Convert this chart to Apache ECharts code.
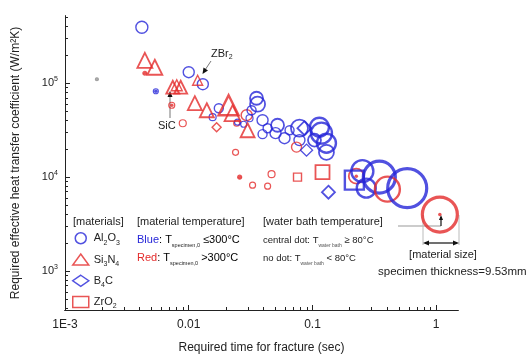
<!DOCTYPE html>
<html>
<head>
<meta charset="utf-8">
<script src="https://cdn.jsdelivr.net/npm/echarts@6/dist/echarts.min.js"></script>
<style>
  html, body { margin: 0; padding: 0; background: #fff; }
  #chart { width: 531px; height: 361px; }
</style>
</head>
<body>
<div id="chart"></div>
<script>
// each point: [time (s), h (W/m2K), marker size, temp (0 blue, 1 red, 2 grey), central dot]
var alumina = [
  [0.00418, 394000, 12, 0, 0], [0.00181, 110300, 3, 2, 1], [0.00442, 127700, 4, 1, 1],
  [0.00542, 82200, 5, 0, 1], [0.00729, 58300, 6, 1, 1], [0.00895, 37500, 7, 1, 0],
  [0.0100, 131000, 11, 0, 0], [0.0130, 97600, 11, 0, 0], [0.0175, 54200, 9, 0, 0],
  [0.0156, 43500, 7, 0, 0], [0.0294, 45700, 11, 1, 0], [0.0244, 37500, 6, 1, 0],
  [0.0353, 69200, 13, 0, 0], [0.0360, 59800, 15, 0, 0], [0.0322, 51600, 9, 0, 0],
  [0.0248, 38500, 6, 0, 0], [0.0278, 36600, 6, 0, 0], [0.0310, 42400, 7, 0, 0],
  [0.0395, 40400, 11, 0, 0], [0.0395, 28700, 9, 0, 0], [0.0434, 33200, 9, 0, 0],
  [0.0239, 18400, 6, 1, 0], [0.0522, 35700, 13, 0, 0], [0.0503, 29400, 11, 0, 0],
  [0.0594, 26000, 11, 0, 0], [0.0653, 31600, 9, 0, 0], [0.0785, 33200, 17, 0, 0],
  [0.0785, 24800, 11, 0, 0], [0.0743, 20900, 10, 1, 0], [0.1138, 34000, 19, 0, 0],
  [0.1182, 29400, 21, 0, 0], [0.1297, 23000, 19, 0, 0], [0.1297, 18400, 15, 0, 0],
  [0.1038, 24800, 13, 0, 0], [0.0258, 10000, 4, 1, 1], [0.0328, 8220, 6, 1, 0],
  [0.0434, 8020, 6, 1, 0], [0.0467, 10760, 7, 1, 0], [0.226, 10250, 15, 1, 1],
  [0.253, 11590, 22, 0, 0], [0.347, 10000, 32, 0, 0], [0.272, 7640, 19, 0, 0],
  [0.403, 7450, 25, 1, 0], [0.583, 7640, 39, 0, 0], [1.07, 4000, 35, 1, 1]
];
var siliconNitride = [
  [0.00442, 175600, 15, 1, 0], [0.00532, 148000, 15, 1, 0], [0.00743, 90700, 13, 1, 0],
  [0.00861, 90700, 13, 1, 0], [0.0080, 95200, 11, 1, 0], [0.0118, 107600, 10, 1, 0],
  [0.0112, 61300, 14, 1, 0], [0.0140, 51600, 14, 1, 0], [0.0210, 58300, 20, 1, 0],
  [0.0226, 48000, 16, 1, 0], [0.0299, 31600, 14, 1, 0]
];
var boronCarbide = [
  [0.0168, 34000, 9, 1, 0], [0.0861, 33200, 14, 0, 0], [0.0895, 19400, 12, 0, 0],
  [0.1346, 6920, 13, 0, 0]
];
var zirconia = [
  [0.0757, 10000, 8, 1, 0], [0.1205, 11300, 14, 1, 0], [0.218, 9290, 19, 0, 0]
];
var xMajor = [0.001, 0.01, 0.1, 1];
var minorMult = [2, 3, 4, 5, 6, 7, 8, 9];
var yMajor = [1000, 10000, 100000];

var BLUE = '#2626d8', RED = '#e42a2a', GREY = '#9a9a9a';
var colors = [BLUE, RED, GREY];
var FONT = 'Liberation Sans, Arial, sans-serif';

var XMIN = 0.001, XMAX = 1.5, YMIN = 385, YMAX = 520000;

// tick positions in log10 space (drawn on hidden linear axes spanning the same decades)
function majorLog(lo, hi) {
  var out = [];
  for (var e = -4; e < 7; e++) if (Math.pow(10, e) >= lo && Math.pow(10, e) <= hi) out.push(e);
  return out;
}
function minorLog(lo, hi) {
  var out = [];
  for (var e = -4; e < 7; e++) {
    minorMult.forEach(function (m) {
      var v = m * Math.pow(10, e);
      if (v > lo && v < hi) out.push(Math.log10(v));
    });
  }
  return out;
}

function stroke(s) {
  return s >= 30 ? 3.2 : s >= 19 ? 2.4 : s >= 13 ? 1.8 : s >= 8 ? 1.4 : 1.2;
}

function markers(arr) {
  return arr.map(function (p) {
    return {
      value: [p[0], p[1]],
      symbolSize: p[2],
      itemStyle: { color: 'transparent', borderColor: colors[p[3]], borderWidth: stroke(p[2]) }
    };
  });
}

var dots = [];
[alumina, siliconNitride, boronCarbide, zirconia].forEach(function (arr) {
  arr.forEach(function (p) {
    if (p[4]) dots.push({ value: [p[0], p[1]], symbolSize: 3.5, itemStyle: { color: colors[p[3]] } });
  });
});

var subRich = {
  n: { fontSize: 11, lineHeight: 16, color: '#222', fontFamily: FONT },
  s: { fontSize: 7, lineHeight: 8, verticalAlign: 'bottom', color: '#222', fontFamily: FONT }
};
var legendNames = {
  'Al2O3': '{n|Al}{s|2}{n|O}{s|3}',
  'Si3N4': '{n|Si}{s|3}{n|N}{s|4}',
  'B4C': '{n|B}{s|4}{n|C}',
  'ZrO2': '{n|ZrO}{s|2}'
};

function tickAxis(lo, hi, pos, ticks, len) {
  return {
    type: 'value', min: Math.log10(lo), max: Math.log10(hi), position: pos,
    axisLine: { show: true, onZero: false, lineStyle: { color: '#222', width: 1 } },
    axisTick: { show: true, inside: true, length: len, customValues: ticks, lineStyle: { color: '#222' } },
    axisLabel: { show: false },
    splitLine: { show: false }
  };
}

var chart = echarts.init(document.getElementById('chart'));
var option = {
  animation: false,
  backgroundColor: '#fff',
  textStyle: { fontFamily: FONT },
  grid: { left: 65, right: 73, top: 16, bottom: 51 },
  xAxis: [{
    type: 'log', logBase: 10, min: XMIN, max: XMAX, position: 'bottom',
    name: 'Required time for fracture (sec)', nameLocation: 'middle', nameGap: 32,
    nameTextStyle: { fontSize: 12, color: '#222', fontFamily: FONT },
    axisLine: { show: true, onZero: false, lineStyle: { color: '#222', width: 1 } },
    axisTick: { show: false },
    axisLabel: {
      customValues: xMajor, margin: 9, fontSize: 12, color: '#222', fontFamily: FONT,
      formatter: function (v) { return v < 0.005 ? '1E-3' : String(+v.toPrecision(2)); }
    },
    splitLine: { show: false }
  }, tickAxis(XMIN, XMAX, 'bottom', majorLog(XMIN, XMAX), 5),
     tickAxis(XMIN, XMAX, 'bottom', minorLog(XMIN, XMAX), 3)],
  yAxis: [{
    type: 'log', logBase: 10, min: YMIN, max: YMAX, position: 'left',
    name: 'Required effective heat transfer coefficient (W/m\u00b2K)', nameLocation: 'middle', nameGap: 43,
    nameTextStyle: { fontSize: 12, color: '#222', fontFamily: FONT },
    axisLine: { show: true, onZero: false, lineStyle: { color: '#222', width: 1 } },
    axisTick: { show: false },
    axisLabel: {
      customValues: yMajor, margin: 7,
      formatter: function (v) { return '{b|10}{p|' + Math.round(Math.log10(v)) + '}'; },
      rich: {
        b: { fontSize: 11, lineHeight: 16, color: '#222', fontFamily: FONT },
        p: { fontSize: 7, lineHeight: 8, verticalAlign: 'top', color: '#222', fontFamily: FONT }
      }
    },
    splitLine: { show: false }
  }, tickAxis(YMIN, YMAX, 'left', majorLog(YMIN, YMAX), 5),
     tickAxis(YMIN, YMAX, 'left', minorLog(YMIN, YMAX), 3)],
  legend: {
    orient: 'vertical', left: 72, top: 232, itemWidth: 16, itemHeight: 11, itemGap: 7,
    padding: 0, selectedMode: false,
    data: [
      { name: 'Al2O3', icon: 'circle', itemStyle: { color: 'transparent', borderColor: BLUE, borderWidth: 1.5 } },
      { name: 'Si3N4', icon: 'triangle', itemStyle: { color: 'transparent', borderColor: RED, borderWidth: 1.5 } },
      { name: 'B4C', icon: 'diamond', itemStyle: { color: 'transparent', borderColor: BLUE, borderWidth: 1.5 } },
      { name: 'ZrO2', icon: 'rect', itemStyle: { color: 'transparent', borderColor: RED, borderWidth: 1.5 } }
    ],
    formatter: function (name) { return legendNames[name]; },
    textStyle: { rich: subRich }
  },
  series: [
    { name: 'Al2O3', type: 'scatter', symbol: 'circle', data: markers(alumina) },
    { name: 'Si3N4', type: 'scatter', symbol: 'triangle', data: markers(siliconNitride) },
    { name: 'B4C', type: 'scatter', symbol: 'diamond', data: markers(boronCarbide) },
    { name: 'ZrO2', type: 'scatter', symbol: 'rect', data: markers(zirconia) },
    { name: 'dot', type: 'scatter', symbol: 'circle', z: 5, data: dots }
  ],
  graphic: [
    { type: 'text', x: 73, y: 216, style: { text: '[materials]', font: '11px ' + FONT, fill: '#222' } },
    { type: 'text', x: 137, y: 216, style: { text: '[material temperature]', font: '11px ' + FONT, fill: '#222' } },
    { type: 'text', x: 263, y: 216, style: { text: '[water bath temperature]', font: '11px ' + FONT, fill: '#222' } },
    { type: 'text', x: 137, y: 232, style: {
      text: '{c|Blue}{n|: T}{s|specimen,0}{n| \u2264300\u00b0C}',
      rich: { c: { fontSize: 11, lineHeight: 16, fill: BLUE, fontFamily: FONT }, n: subRich.n,
        s: { fontSize: 5.5, lineHeight: 8, verticalAlign: 'bottom', fill: '#222', fontFamily: FONT } } } },
    { type: 'text', x: 137, y: 250, style: {
      text: '{c|Red}{n|: T}{s|specimen,0}{n| >300\u00b0C}',
      rich: { c: { fontSize: 11, lineHeight: 16, fill: RED, fontFamily: FONT }, n: subRich.n,
        s: { fontSize: 5.5, lineHeight: 8, verticalAlign: 'bottom', fill: '#222', fontFamily: FONT } } } },
    { type: 'text', x: 263, y: 233, style: {
      text: '{n|central dot: T}{s|water bath}{n| \u2265 80\u00b0C}',
      rich: { n: { fontSize: 9.5, lineHeight: 15, fill: '#222', fontFamily: FONT },
        s: { fontSize: 5, lineHeight: 7, verticalAlign: 'bottom', fill: '#555', fontFamily: FONT } } } },
    { type: 'text', x: 263, y: 251, style: {
      text: '{n|no dot: T}{s|water bath}{n| < 80\u00b0C}',
      rich: { n: { fontSize: 9.5, lineHeight: 15, fill: '#222', fontFamily: FONT },
        s: { fontSize: 5, lineHeight: 7, verticalAlign: 'bottom', fill: '#555', fontFamily: FONT } } } },
    { type: 'text', x: 158, y: 120, style: { text: 'SiC', font: '11px ' + FONT, fill: '#222' } },
    { type: 'text', x: 211, y: 46, style: {
      text: '{n|ZBr}{s|2}', rich: { n: { fontSize: 11, lineHeight: 15, fill: '#222', fontFamily: FONT },
        s: { fontSize: 7, lineHeight: 7, verticalAlign: 'bottom', fill: '#222', fontFamily: FONT } } } },
    // SiC arrow
    { type: 'line', shape: { x1: 170, y1: 118, x2: 170, y2: 95 }, style: { stroke: '#777', lineWidth: 1 } },
    { type: 'polygon', shape: { points: [[170, 91], [167.5, 97], [172.5, 97]] }, style: { fill: '#111' } },
    // ZBr2 arrow
    { type: 'line', shape: { x1: 211, y1: 61, x2: 205, y2: 70 }, style: { stroke: '#777', lineWidth: 1 } },
    { type: 'polygon', shape: { points: [[202.5, 74], [203.5, 67.5], [208, 70.5]] }, style: { fill: '#111' } },
    // material size annotation
    { type: 'line', shape: { x1: 398, y1: 226, x2: 441, y2: 226 }, style: { stroke: '#999', lineWidth: 1 } },
    { type: 'line', shape: { x1: 441, y1: 226, x2: 441, y2: 217 }, style: { stroke: '#111', lineWidth: 1.2 } },
    { type: 'polygon', shape: { points: [[441, 215], [439, 220], [443, 220]] }, style: { fill: '#111' } },
    { type: 'line', shape: { x1: 423, y1: 215, x2: 423, y2: 245 }, style: { stroke: '#bbb', lineWidth: 1 } },
    { type: 'line', shape: { x1: 459, y1: 215, x2: 459, y2: 245 }, style: { stroke: '#bbb', lineWidth: 1 } },
    { type: 'line', shape: { x1: 425, y1: 243, x2: 457, y2: 243 }, style: { stroke: '#111', lineWidth: 1.2 } },
    { type: 'polygon', shape: { points: [[423, 243], [429, 240.5], [429, 245.5]] }, style: { fill: '#111' } },
    { type: 'polygon', shape: { points: [[459, 243], [453, 240.5], [453, 245.5]] }, style: { fill: '#111' } },
    { type: 'text', x: 443, y: 249, style: { text: '[material size]', font: '11px ' + FONT, fill: '#222', align: 'center', textAlign: 'center' } },
    { type: 'text', x: 378, y: 266, style: { text: 'specimen thickness=9.53mm', font: '11.5px ' + FONT, fill: '#222' } }
  ]
};
chart.setOption(option);
</script>
</body>
</html>
